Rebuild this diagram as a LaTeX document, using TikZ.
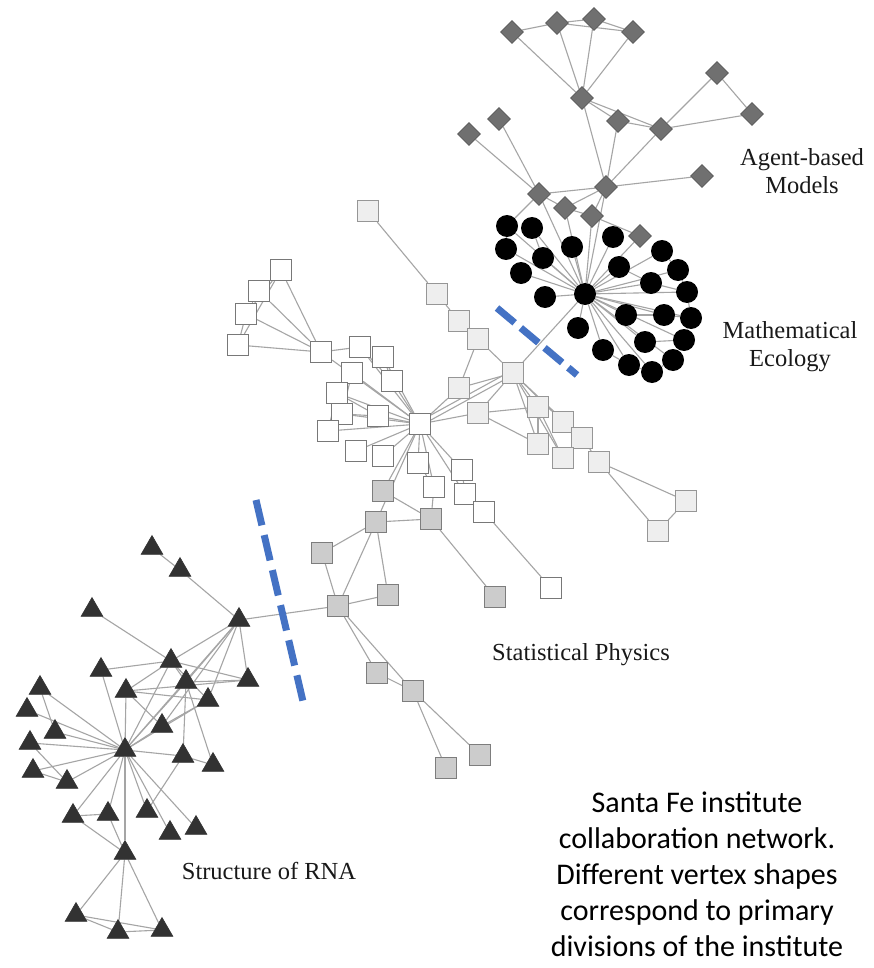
\documentclass[tikz,border=0pt]{standalone}
\usepackage{fontspec}
\setmainfont{Liberation Serif}
\newfontfamily\capfont{Carlito}
\usetikzlibrary{shapes.geometric,backgrounds}

\definecolor{edgecol}{RGB}{165,165,165}
\definecolor{diafill}{RGB}{112,112,112}
\definecolor{diaborder}{RGB}{88,88,88}
\definecolor{lightfill}{RGB}{238,238,238}
\definecolor{lightborder}{RGB}{150,150,150}
\definecolor{grayfill}{RGB}{204,204,204}
\definecolor{grayborder}{RGB}{125,125,125}
\definecolor{whiteborder}{RGB}{120,120,120}
\definecolor{trifill}{RGB}{50,50,50}
\definecolor{divblue}{RGB}{68,114,196}
\definecolor{labtext}{RGB}{25,25,25}

\tikzset{
  dia/.style={diamond, fill=diafill, draw=diaborder, line width=0.8pt,
    minimum size=23pt, inner sep=0pt},
  dot/.style={circle, fill=black, minimum size=22pt, inner sep=0pt},
  sqbase/.style={rectangle, minimum size=21pt, inner sep=0pt, line width=1.2pt},
  wsq/.style={sqbase, fill=white, draw=whiteborder},
  lsq/.style={sqbase, fill=lightfill, draw=lightborder},
  gsq/.style={sqbase, fill=grayfill, draw=grayborder},
  tri/.style={regular polygon, regular polygon sides=3, fill=trifill,
    draw=trifill, line width=0.6pt, minimum size=25pt, inner sep=0pt, yshift=-3pt},
  link/.style={draw=edgecol, line width=1.1pt},
  divider/.style={draw=divblue, line width=7pt},
  grouplabel/.style={font=\fontsize{24.5}{28}\selectfont, text=labtext,
    align=center, inner sep=0pt},
  caption/.style={font=\capfont\fontsize{30}{36}\selectfont, text=black,
    align=center, inner sep=0pt}
}

\begin{document}
\begin{tikzpicture}[x=1pt, y=-1pt]
\useasboundingbox (0,0) rectangle (873,968);

% ---- Agent-based models (diamonds)
\foreach \n/\x/\y in {d1/512/32, d2/557/23, d3/594/19, d4/633/32, d5/582/98,
  d6/717/73, d7/752/114, d8/618/121, d9/661/129, d10/499/119, d11/469/134,
  d12/606/187, d13/702/176, d14/539/194, d15/565/208, d16/592/216, d17/640/236}
  \node[dia] (\n) at (\x,\y) {};

% ---- Mathematical ecology (circles)
\foreach \n/\x/\y in {c1/507/226, c2/532/228, c3/506/249, c4/543/258, c5/521/273,
  c6/572/247, c7/613/237, c8/619/267, c9/662/251, c10/678/270, c11/651/283,
  c12/687/292, c13/545/297, c14/626/315, c15/664/315, c16/691/318, c17/578/328,
  c18/645/342, c19/684/340, c20/603/350, c21/629/365, c22/652/372, c23/673/360,
  c0/585/294}
  \node[dot] (\n) at (\x,\y) {};

% ---- Statistical physics, light squares
\foreach \n/\x/\y in {l1/368/211, l2/437/294, l3/459/321, l4/478/339, lh/513/373,
  l5/459/388, l6/478/413, l7/538/407, l8/563/422, l9/582/438, l10/538/444,
  l11/563/458, l12/599/462, l13/686/501, l14/658/531}
  \node[lsq] (\n) at (\x,\y) {};

% ---- Statistical physics, white squares
\foreach \n/\x/\y in {w1/281/270, w2/259/291, w3/246/314, w4/238/345, w5/321/352,
  w6/360/347, w7/383/357, w8/352/373, w9/392/381, w10/337/393, w11/342/414,
  w12/378/416, w13/328/431, w14/356/451, w15/383/456, wh/420/424, w16/418/463,
  w17/434/487, w18/462/470, w19/465/494, w20/484/512, w21/551/588}
  \node[wsq] (\n) at (\x,\y) {};

% ---- Statistical physics, gray squares
\foreach \n/\x/\y in {g1/383/491, g2/376/522, g3/431/519, g4/495/597, g5/322/553,
  g6/388/595, g7/338/606, g8/377/673, g9/413/691, g10/480/755, g11/446/768}
  \node[gsq] (\n) at (\x,\y) {};

% ---- Structure of RNA (triangles)
\foreach \n/\x/\y in {r1/152/545, r2/180/567, r3/239/617, r4/92/607, r5/171/658,
  r6/101/667, r7/186/679, r8/248/677, r9/40/685, r10/126/688, r11/208/697,
  r12/27/707, r13/55/729, r14/162/723, r15/30/740, r0/125/747, r16/183/753,
  r17/213/762, r18/33/768, r19/67/779, r20/73/813, r21/108/811, r22/147/808,
  r23/170/830, r24/196/825, r25/125/850, r26/76/912, r27/118/929, r28/162/927}
  \node[tri] (\n) at (\x,\y) {};

% ---- collaboration links, kept behind the vertices
\begin{scope}[on background layer]
  \fill[white] (0,0) rectangle (873,968);
  % diamonds
  \foreach \a/\b in {d1/d2, d2/d3, d3/d4, d2/d4, d1/d5, d2/d5, d3/d5, d4/d5,
    d5/d8, d5/d9, d8/d9, d5/d12, d8/d12, d9/d12, d9/d6, d9/d7, d6/d7, d12/d13,
    d10/d14, d11/d14, d14/d12, d14/d15, d15/d16, d12/d15, d12/d16, d16/d17,
    d14/c1, d14/c0, d12/c0, d16/c0, d17/c0, d15/c0}
    \draw[link] (\a) -- (\b);
  % circles
  \foreach \b in {c1,c2,c3,c4,c5,c6,c7,c8,c9,c10,c11,c12,c13,c14,c15,c16,c17,
    c18,c19,c20,c21,c22,c23}
    \draw[link] (c0) -- (\b);
  \foreach \a/\b in {c1/c3, c2/c4, c9/c10, c10/c12, c11/c12, c12/c16, c14/c15,
    c15/c16, c16/c19, c18/c19, c19/c23, c20/c21, c21/c22, c22/c23, c8/c11,
    c0/lh}
    \draw[link] (\a) -- (\b);
  % light squares
  \foreach \a/\b in {l1/l2, l2/l3, l3/l4, l4/lh, l4/l5, lh/l5, lh/l6, lh/l7,
    lh/l8, lh/l9, lh/l10, lh/l11, l6/l7, l6/l10, l7/l10, l7/l11, l8/l9, l9/l12,
    l12/l13, l12/l14, l13/l14, l5/wh, l6/wh}
    \draw[link] (\a) -- (\b);
  \draw[link] ([yshift=-2pt]lh.center) -- ([yshift=-2pt]wh.center);
  \draw[link] ([yshift=3pt]lh.center) -- ([yshift=3pt]wh.center);
  % white squares
  \foreach \a/\b in {w1/w2, w2/w3, w3/w4, w1/w3, w1/w4, w1/w5, w2/w5, w3/w5,
    w4/w5, w5/w6, w5/wh, w6/w9, w7/w9, w8/w11, w10/w13, w10/w12, w11/w12,
    w16/w17, w18/w19, w19/w20, w20/w21, w17/g3}
    \draw[link] (\a) -- (\b);
  \foreach \b in {w6,w7,w8,w9,w10,w11,w12,w13,w14,w15,w16,w17,w18,w19,g1,g2}
    \draw[link] (wh) -- (\b);
  % gray squares
  \foreach \a/\b in {g1/g3, g2/g3, g3/g4, g2/g5, g2/g7, g2/g6, g5/g7, g6/g7,
    g7/g8, g7/g9, g8/g9, g9/g10, g9/g11, g7/r3}
    \draw[link] (\a) -- (\b);
  % triangles
  \foreach \a/\b in {r1/r2, r2/r3, r3/r5, r3/r7, r3/r8, r3/r11, r3/r14, r3/r0,
    r4/r5, r6/r5, r5/r8, r5/r7, r5/r11, r5/r10, r10/r11, r10/r8, r14/r11,
    r7/r8, r9/r13, r10/r14, r7/r16, r7/r17, r15/r19, r18/r19, r16/r17,
    r22/r16, r20/r21, r20/r25, r21/r25, r25/r26, r25/r27, r25/r28,
    r26/r27, r26/r28, r27/r28}
    \draw[link] (\a) -- (\b);
  \foreach \b in {r5,r6,r7,r9,r10,r11,r12,r13,r14,r15,r16,r18,r19,r20,r21,r22,
    r23,r24,r25}
    \draw[link] (r0) -- (\b);
\end{scope}

% ---- division boundaries
\coordinate (cutA1) at (497,308);
\coordinate (cutA2) at (577,375);
\coordinate (cutB1) at (256,500);
\coordinate (cutB2) at (305,710);
\draw[divider, dash pattern=on 23pt off 8pt] (cutA1) -- (cutA2);
\draw[divider, dash pattern=on 26pt off 10pt] (cutB1) -- (cutB2);

% ---- group names
\node[grouplabel] (labAgent) at (802,171) {Agent-based\\Models};
\node[grouplabel] (labEco) at (790,347) {Mathematical\\Ecology};
\node[grouplabel] (labStat) at (581,655) {Statistical Physics};
\node[grouplabel] (labRNA) at (269,871) {Structure of RNA};

% ---- caption
\node[caption] (cap) at (697,874) {Santa Fe institute\\collaboration network.\\
  Different vertex shapes\\correspond to primary\\divisions of the institute};
\end{tikzpicture}
\end{document}
